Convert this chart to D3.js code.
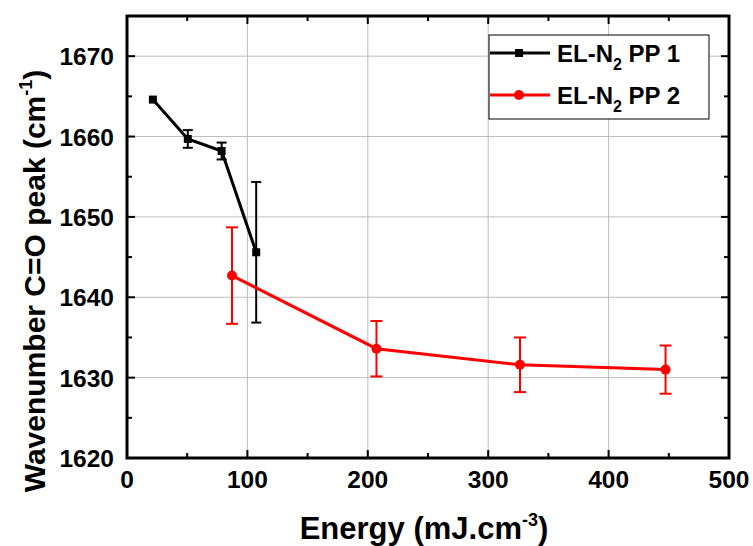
<!DOCTYPE html>
<html><head><meta charset="utf-8">
<script src="https://cdn.jsdelivr.net/npm/d3@7"></script>
<style>body{margin:0;background:#fff}svg{display:block}text{font-family:"Liberation Sans",Arial,sans-serif;font-weight:bold}</style>
</head><body>
<svg id="c" width="753" height="546"></svg>
<script>
// Data
const pp1X = [21.5, 50.5, 78.6, 107.3];
const pp1Y = [1664.6, 1659.7, 1658.2, 1645.6];
const pp1Err = [0, 1.1, 1.05, 8.75];
const pp2X = [87.2, 207.2, 326.4, 447.3];
const pp2Y = [1642.7, 1633.6, 1631.6, 1631.0];
const pp2Err = [6.0, 3.45, 3.4, 3.0];
const xTicks = [0, 100, 200, 300, 400, 500];
const yTicks = [1620, 1630, 1640, 1650, 1660, 1670];

const svg = d3.select("#c");
const L = 127, R = 729, T = 16, B = 458;
const x = d3.scaleLinear().domain([0, 500]).range([L, R]);
const y = d3.scaleLinear().domain([1620, 1675]).range([B, T]);

// grid
const g = svg.append("g");
g.selectAll(".gx").data(xTicks.slice(1, -1)).join("line")
  .attr("x1", d => x(d)).attr("x2", d => x(d)).attr("y1", T).attr("y2", B)
  .attr("stroke", "#bdbdbd").attr("stroke-width", 1);
g.selectAll(".gy").data(yTicks.slice(1)).join("line")
  .attr("y1", d => y(d)).attr("y2", d => y(d)).attr("x1", L).attr("x2", R)
  .attr("stroke", "#bdbdbd").attr("stroke-width", 1);

// axes with inward ticks
function axes() {
  const xMinor = d3.range(50, 500, 100);
  const yMinor = d3.range(1625, 1675, 10);
  const ax = svg.append("g");
  const tk = (a, b, c2, d2, w) => ax.append("line").attr("x1", a).attr("y1", b).attr("x2", c2).attr("y2", d2)
    .attr("stroke", "#000").attr("stroke-width", w);
  xTicks.forEach(v => { tk(x(v), B, x(v), B - 8, 2); tk(x(v), T, x(v), T + 8, 2); });
  xMinor.forEach(v => { tk(x(v), B, x(v), B - 5, 2); tk(x(v), T, x(v), T + 5, 2); });
  yTicks.concat([1675]).forEach(v => { tk(L, y(v), L + 8, y(v), 2); tk(R, y(v), R - 8, y(v), 2); });
  yMinor.forEach(v => { tk(L, y(v), L + 5, y(v), 2); tk(R, y(v), R - 5, y(v), 2); });
  ax.append("rect").attr("x", L).attr("y", T).attr("width", R - L).attr("height", B - T)
    .attr("fill", "none").attr("stroke", "#000").attr("stroke-width", 3);
  ax.selectAll(".xl").data(xTicks).join("text").attr("x", d => x(d)).attr("y", 488)
    .attr("text-anchor", "middle").attr("font-size", 24.5).text(d => d);
  ax.selectAll(".yl").data(yTicks).join("text").attr("x", 114).attr("y", d => y(d) + 9)
    .attr("text-anchor", "end").attr("font-size", 24.5).text(d => d);
}

function series(xs, ys, es, color, cap, marker) {
  const s = svg.append("g");
  const pts = xs.map((v, i) => ({ x: v, y: ys[i], e: es[i] }));
  s.append("path").datum(pts).attr("fill", "none").attr("stroke", color).attr("stroke-width", 3)
    .attr("d", d3.line().x(d => x(d.x)).y(d => y(d.y)));
  pts.filter(d => d.e > 0).forEach(d => {
    s.append("line").attr("x1", x(d.x)).attr("x2", x(d.x)).attr("y1", y(d.y - d.e)).attr("y2", y(d.y + d.e))
      .attr("stroke", color).attr("stroke-width", 2);
    [d.y - d.e, d.y + d.e].forEach(v => s.append("line").attr("x1", x(d.x) - cap).attr("x2", x(d.x) + cap)
      .attr("y1", y(v)).attr("y2", y(v)).attr("stroke", color).attr("stroke-width", 2));
  });
  pts.forEach(d => marker(s, x(d.x), y(d.y)));
}
const sq = (s, cx, cy) => s.append("rect").attr("x", cx - 4).attr("y", cy - 4).attr("width", 8).attr("height", 8).attr("fill", "#000");
const ci = (s, cx, cy) => s.append("circle").attr("cx", cx).attr("cy", cy).attr("r", 5).attr("fill", "#ff0000");

series(pp1X, pp1Y, pp1Err, "#000", 5, sq);
series(pp2X, pp2Y, pp2Err, "#ff0000", 6, ci);
axes();

// legend
const lg = svg.append("g");
lg.append("rect").attr("x", 489).attr("y", 35).attr("width", 220).attr("height", 84)
  .attr("fill", "#fff").attr("stroke", "#000").attr("stroke-width", 1);
[["1", "#000", sq, 53], ["2", "#ff0000", ci, 95]].forEach(([n, c, m, yy]) => {
  lg.append("line").attr("x1", 490).attr("x2", 550).attr("y1", yy).attr("y2", yy).attr("stroke", c).attr("stroke-width", 3);
  m(lg, 519, yy);
  const t = lg.append("text").attr("x", 557).attr("y", yy + 8.5).attr("font-size", 24);
  t.append("tspan").text("EL-N");
  t.append("tspan").attr("font-size", 16).attr("dy", 8).text("2");
  t.append("tspan").attr("dy", -8).text(" PP " + n);
});

// axis titles
const xt = svg.append("text").attr("x", 424).attr("y", 539).attr("text-anchor", "middle").attr("font-size", 31);
xt.append("tspan").text("Energy (mJ.cm");
xt.append("tspan").attr("font-size", 18).attr("dy", -13).text("-3");
xt.append("tspan").attr("dy", 13).text(")");

const yt = svg.append("text").attr("transform", "translate(45,281) rotate(-90)").attr("text-anchor", "middle").attr("font-size", 30);
yt.append("tspan").text("Wavenumber C=O peak (cm");
yt.append("tspan").attr("font-size", 18).attr("dy", -13).text("-1");
yt.append("tspan").attr("dy", 13).text(")");
</script>
</body></html>
